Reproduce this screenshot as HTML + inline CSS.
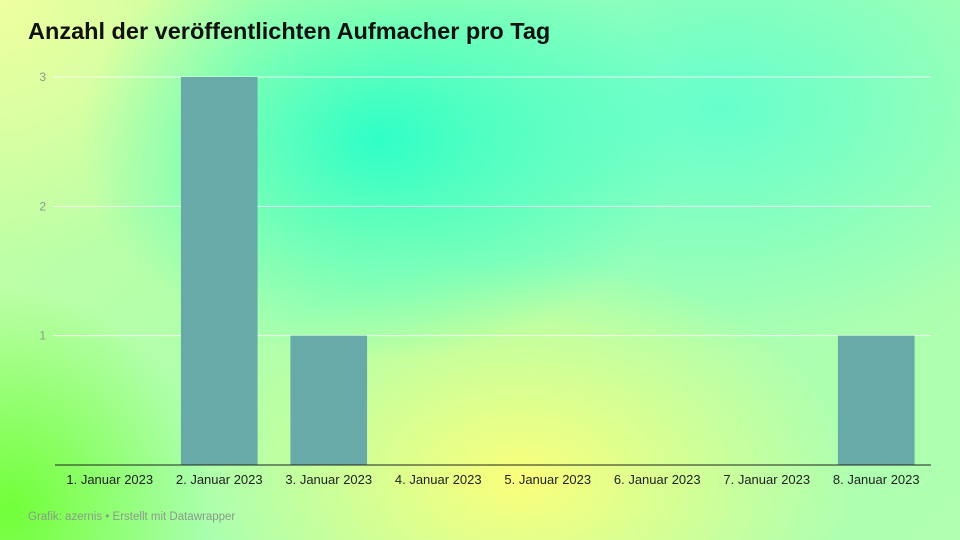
<!DOCTYPE html>
<html><head><meta charset="utf-8"><style>
body{margin:0;width:960px;height:540px;overflow:hidden;font-family:"Liberation Sans",sans-serif;}
#bg{position:absolute;left:0;top:0;width:960px;height:540px;
background:
radial-gradient(ellipse 300px 220px at 380px 140px, rgba(40,255,200,0.95), rgba(40,255,200,0) 100%),
radial-gradient(ellipse 330px 220px at 520px 480px, rgba(255,255,120,0.95), rgba(255,255,120,0) 100%),
radial-gradient(ellipse 200px 220px at 10px 510px, rgba(110,255,50,0.95), rgba(110,255,50,0) 100%),
radial-gradient(ellipse 380px 240px at 720px 110px, rgba(90,255,210,0.85), rgba(90,255,210,0) 100%),
radial-gradient(ellipse 260px 260px at 0px 0px, rgba(240,255,160,0.95), rgba(240,255,160,0) 100%),
linear-gradient(135deg,#c8ffa0 0%,#a8ffb0 50%,#b0ffb0 100%);}
svg{position:absolute;left:0;top:0;}
</style></head><body>
<div id="bg"></div>
<svg width="960" height="540">
<text x="28" y="39" font-size="23.5" font-weight="bold" fill="#111">Anzahl der veröffentlichten Aufmacher pro Tag</text>
<g id="grid"></g><g id="bars"></g><g id="xlabels"></g>
<line x1="55" x2="931" y1="465" y2="465" stroke="#222" stroke-width="1"/>
<text x="28" y="520" font-size="11.5" fill="#8a9a8a">Grafik: azernis • Erstellt mit Datawrapper</text>
</svg>
<script>
const categories=["1. Januar 2023","2. Januar 2023","3. Januar 2023","4. Januar 2023","5. Januar 2023","6. Januar 2023","7. Januar 2023","8. Januar 2023"];
const values=[0,3,1,0,0,0,0,1];
const yTicks=[1,2,3];
const L=55,R=931,B=465,T=77,yMax=3;
const ns="http://www.w3.org/2000/svg";
const y=v=>B-(B-T)*v/yMax;
const band=(R-L)/categories.length;
const x=i=>L+band*i;
const g=document.getElementById('grid');
yTicks.forEach(t=>{
 const l=document.createElementNS(ns,'line');
 
 
 l.setAttribute('x1',53);l.setAttribute('x2',R);l.setAttribute('y1',y(t));l.setAttribute('y2',y(t));
 l.setAttribute('stroke','rgba(255,255,255,0.8)');l.setAttribute('stroke-width','1');
 g.appendChild(l);
 const tx=document.createElementNS(ns,'text');
 
 
 tx.setAttribute('x',46);tx.setAttribute('y',y(t)+4);tx.setAttribute('text-anchor','end');
 tx.setAttribute('font-size','12');tx.setAttribute('fill','#8a9a8a');tx.textContent=t;
 g.appendChild(tx);
});
const bg=document.getElementById('bars'),xl=document.getElementById('xlabels');
categories.forEach((c,i)=>{
 const w=band*0.7;
 if(values[i]>0){
  const r=document.createElementNS(ns,'rect');
  
  
  r.setAttribute('x',x(i)+(band-w)/2);r.setAttribute('width',w);
  r.setAttribute('y',y(values[i]));r.setAttribute('height',B-y(values[i]));
  r.setAttribute('fill','#68aaa8');
  bg.appendChild(r);
 }
 const t=document.createElementNS(ns,'text');
 
 
 t.setAttribute('x',x(i)+band/2);t.setAttribute('y',484);t.setAttribute('text-anchor','middle');
 t.setAttribute('font-size','13');t.setAttribute('fill','#222');t.textContent=c;
 xl.appendChild(t);
});
</script>
</body></html>
